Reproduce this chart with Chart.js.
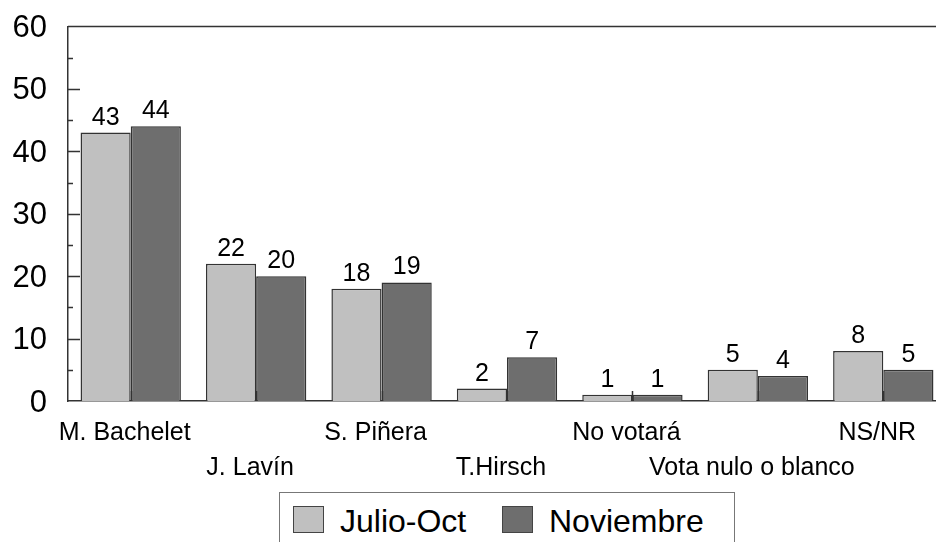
<!DOCTYPE html>
<html>
<head>
<meta charset="utf-8">
<script src="https://cdn.jsdelivr.net/npm/chart.js@4/dist/chart.umd.min.js"></script>
<style>
    html, body { margin: 0; padding: 0; background: #fff; }
    #wrap { position: relative; width: 936px; height: 542px; overflow: hidden; }
    #chart-box { position: absolute; left: 0; top: 0; width: 946px; height: 542px; }
    #legend {
        position: absolute; left: 279px; top: 492px; width: 454px; height: 70px;
        border: 1px solid #777; background: #fff;
        font-family: "Liberation Sans", Arial, sans-serif; font-size: 32px; color: #000;
    }
    .item { position: absolute; top: 8px; height: 40px; line-height: 40px; white-space: nowrap; }
    .swatch { position: absolute; top: 5px; width: 29px; height: 25px; border: 1px solid #444; }
    .item span.txt { position: absolute; left: 47px; top: 0; }
</style>
</head>
<body>
<div id="wrap">
    <div id="chart-box"><canvas id="bar-chart" width="946" height="542"></canvas></div>
    <div id="legend"></div>
</div>
<script>
// chart data
const categories = [
    ["M. Bachelet"],
    ["", "J. Lavín"],
    ["S. Piñera"],
    ["", "T.Hirsch"],
    ["No votará"],
    ["", "Vota nulo o blanco"],
    ["NS/NR"]
];
const seriesNames = ["Julio-Oct", "Noviembre"];
const julioOct = [43, 22, 18, 2, 1, 5, 8];
const noviembre = [44, 20, 19, 7, 1, 4, 5];
const yTicks = [0, 10, 20, 30, 40, 50, 60];

const colors = ["#c0c0c0", "#6e6e6e"];
const FONT = "'Liberation Sans', Arial, sans-serif";

// value labels above each bar
const valueLabels = {
    id: "valueLabels",
    afterDatasetsDraw(chart) {
        const ctx = chart.ctx;
        ctx.save();
        ctx.font = "25px " + FONT;
        ctx.fillStyle = "#000";
        ctx.textAlign = "center";
        ctx.textBaseline = "alphabetic";
        chart.data.datasets.forEach((ds, i) => {
            chart.getDatasetMeta(i).data.forEach((bar, j) => {
                ctx.fillText(String(ds.data[j]), bar.x, bar.y - 8);
            });
        });
        ctx.restore();
    }
};

// inward tick marks + top frame line
const frame = {
    id: "frame",
    afterDatasetsDraw(chart) {
        const ctx = chart.ctx;
        const area = chart.chartArea;
        const y = chart.scales.y;
        const x = chart.scales.x;
        ctx.save();
        ctx.strokeStyle = "#333";
        ctx.lineWidth = 1.5;
        ctx.beginPath();
        // top line
        ctx.moveTo(area.left, y.getPixelForValue(60));
        ctx.lineTo(area.right, y.getPixelForValue(60));
        // y ticks (major and minor)
        for (let v = 5; v < 60; v += 5) {
            const py = Math.round(y.getPixelForValue(v)) + 0.5;
            const len = v % 10 === 0 ? 12 : 5;
            ctx.moveTo(area.left, py);
            ctx.lineTo(area.left + len, py);
        }
        // x ticks at category centres
        x.ticks.forEach((t, i) => {
            const px = Math.round(x.getPixelForTick(i)) + 0.5;
            ctx.moveTo(px, area.bottom);
            ctx.lineTo(px, area.bottom - 10);
        });
        ctx.stroke();
        ctx.restore();
    }
};

const ctx = document.getElementById("bar-chart").getContext("2d");
new Chart(ctx, {
    type: "bar",
    data: {
        labels: categories,
        datasets: [
            { label: seriesNames[0], data: julioOct, backgroundColor: colors[0], borderColor: "#333", borderWidth: 1.5 },
            { label: seriesNames[1], data: noviembre, backgroundColor: colors[1], borderColor: "#333", borderWidth: 1.5 }
        ]
    },
    options: {
        responsive: false,
        animation: false,
        layout: { padding: { left: 12, right: 0, top: 26.5, bottom: 41 } },
        plugins: {
            legend: { display: false },
            tooltip: { enabled: false }
        },
        datasets: {
            bar: { categoryPercentage: 0.8, barPercentage: 1.0 }
        },
        scales: {
            x: {
                grid: { display: false, drawTicks: false },
                border: { display: true, color: "#333", width: 1.5 },
                afterFit(scale) {
                    scale.paddingLeft = 0;
                    scale.paddingRight = 0;
                },
                ticks: {
                    autoSkip: false, maxRotation: 0, minRotation: 0,
                    padding: 15, labelOffset: -6,
                    color: "#000",
                    font: { family: FONT, size: 25, lineHeight: 1.4 }
                }
            },
            y: {
                min: 0, max: 60,
                afterBuildTicks(scale) {
                    scale.ticks = yTicks.map(v => ({ value: v }));
                },
                afterFit(scale) {
                    scale.width = 56;
                    scale.paddingTop = 0;
                    scale.paddingBottom = 0;
                },
                grid: { display: false, drawTicks: false },
                border: { display: true, color: "#333", width: 1.5 },
                ticks: {
                    padding: 21, labelOffset: 2,
                    color: "#000",
                    font: { family: FONT, size: 31 }
                }
            }
        }
    },
    plugins: [valueLabels, frame]
});

// legend built from the series names
const legend = document.getElementById("legend");
const itemLeft = [13, 222];
seriesNames.forEach((name, i) => {
    const item = document.createElement("div");
    item.className = "item";
    item.style.left = itemLeft[i] + "px";
    item.innerHTML = `<div class="swatch" style="background:${colors[i]}"></div><span class="txt">${name}</span>`;
    legend.appendChild(item);
});
</script>
</body>
</html>
